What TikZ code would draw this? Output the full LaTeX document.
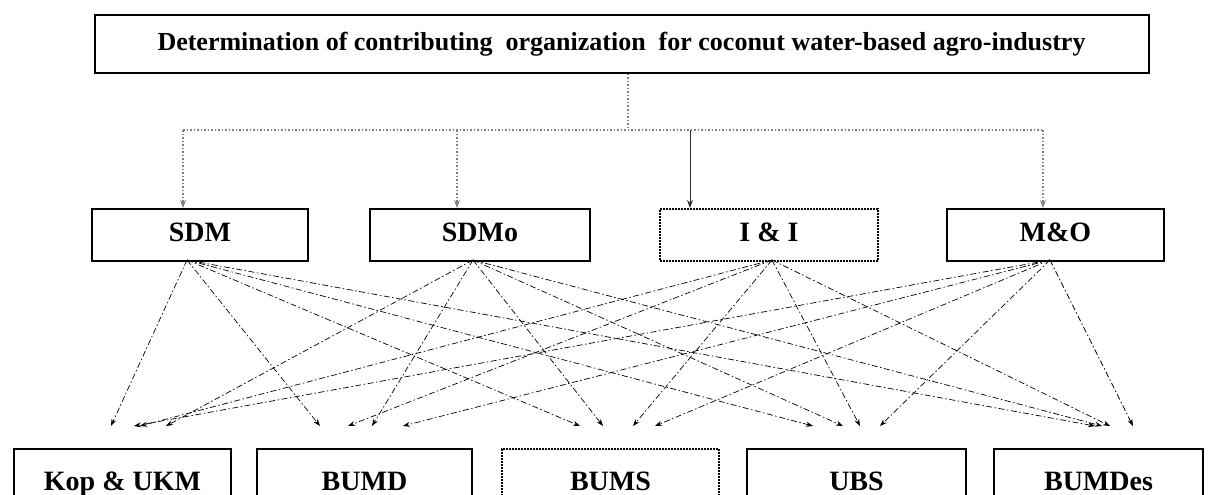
\documentclass[tikz,border=0pt]{standalone}
\usepackage{fontspec}
\setmainfont{Liberation Serif}
\usetikzlibrary{arrows.meta}
\begin{document}
\begin{tikzpicture}[x=1pt,y=-1pt,
 box/.style={draw=black,line width=2pt,inner sep=0pt,text height=19pt,text depth=6pt,font=\bfseries\fontsize{28}{32}\selectfont},
 dbox/.style={box,densely dotted},
 fan/.style={line width=0.7pt,dash pattern=on 6pt off 2.5pt on 1.5pt off 2.5pt,-{Stealth[length=7pt,width=5pt]}},
 trunk/.style={draw=gray,line width=1.5pt,dotted},
 drop/.style={trunk,-{Stealth[length=8pt,width=6pt]}},
 sdrop/.style={draw=black!80,line width=0.8pt,-{Stealth[length=8pt,width=6pt]}},
]
\useasboundingbox (0,0) rectangle (1211,495);
\clip (0,0) rectangle (1211,495);
% top
\node[box,minimum width=1054pt,minimum height=58pt,font=\bfseries\fontsize{26}{30}\selectfont] (top) at (621.5,44)
  {Determination of contributing\ \ organization\ \ for coconut water-based agro-industry};
% middle row
\node[box,minimum width=216pt,minimum height=52pt] (sdm) at (200,235) {SDM};
\node[box,minimum width=220pt,minimum height=52pt] (sdmo) at (480,235) {SDMo};
\node[dbox,minimum width=218pt,minimum height=52pt] (ii) at (769,235) {I \& I};
\node[box,minimum width=217pt,minimum height=52pt] (mo) at (1055.5,235) {M\&O};
% bottom row
\node[box,minimum width=217pt,minimum height=70pt] (kop) at (122.5,484) {Kop \& UKM};
\node[box,minimum width=215pt,minimum height=70pt] (bumd) at (364.5,484) {BUMD};
\node[dbox,minimum width=217pt,minimum height=70pt] (bums) at (610.5,484) {BUMS};
\node[box,minimum width=219pt,minimum height=70pt] (ubs) at (856.5,484) {UBS};
\node[box,minimum width=209pt,minimum height=70pt] (bumdes) at (1098.5,484) {BUMDes};
% trunk and drops
\coordinate (t0) at (628,130);
\coordinate (d1) at (183,130);
\coordinate (d2) at (457,130);
\coordinate (d3) at (690,130);
\coordinate (d4) at (1043,130);
\draw[trunk] (top.south -| t0) -- (t0);
\draw[trunk] (d1) -- (d4);
\draw[drop] (d1) -- (d1 |- sdm.north);
\draw[drop] (d2) -- (d2 |- sdmo.north);
\draw[sdrop] (d3) -- (d3 |- ii.north);
\draw[drop] (d4) -- (d4 |- mo.north);
% fan sources
\coordinate (s1) at (187,260);
\coordinate (s2) at (473,260);
\coordinate (s3) at (772,260);
\coordinate (s4) at (1050,260);
% tips
\foreach \n/\x in {kop1/111,kop2/166,kop3/140,kop4/134,
  bumd1/320,bumd2/372,bumd3/348,bumd4/403,
  bums1/580,bums2/603,bums3/633,bums4/655,
  ubs1/813,ubs2/843,ubs3/860,ubs4/880,
  bumdes1/1095,bumdes2/1102,bumdes3/1110,bumdes4/1133}
  \coordinate (\n) at (\x,426);
\foreach \i in {1,2,3,4}{
  \foreach \b in {kop,bumd,bums,ubs,bumdes}
    \draw[fan] (s\i) -- (\b\i);
}
\end{tikzpicture}
\end{document}
